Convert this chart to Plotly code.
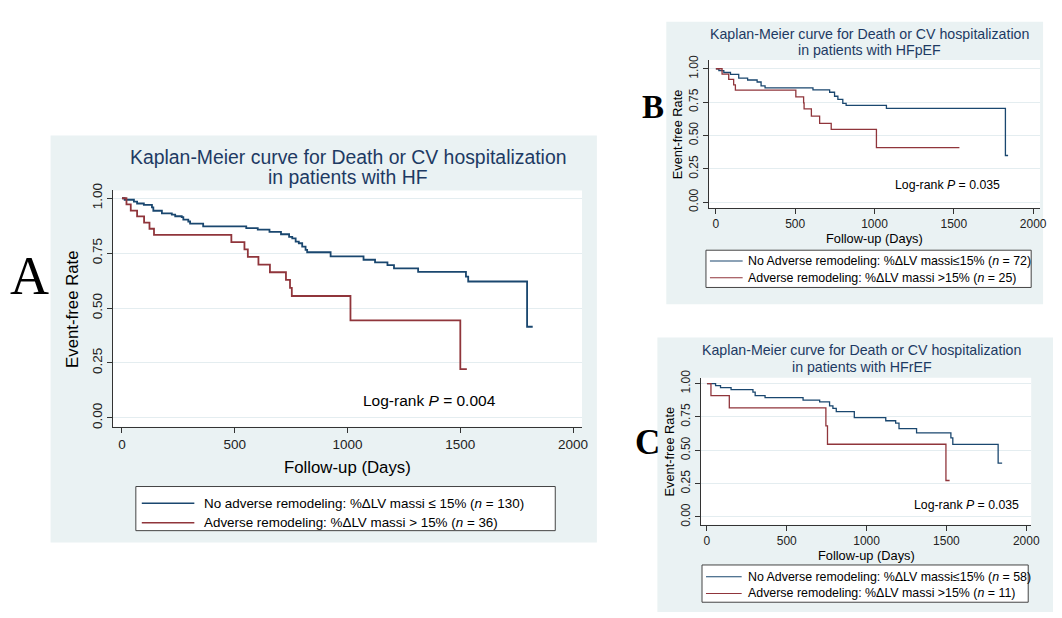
import plotly.graph_objects as go

W, H = 1062, 618
NAVY = "#1a476f"
MAROON = "#90353b"
PANEL_BG = "#eaf2f3"
GRID = "#e4edf0"
AXIS = "#333333"
TITLE_C = "#1d3a63"
SANS = "Liberation Sans, Arial, sans-serif"
SERIF = "Liberation Serif, Times New Roman, serif"

# ---------------- Panel A: all HF ----------------
a_no_t = [0, 12, 53, 67, 97, 133, 139, 177, 221, 236, 265, 272, 294, 302, 360,
          551, 602, 654, 705, 741, 755, 770, 784, 799, 814, 821, 925, 1071,
          1122, 1177, 1206, 1313, 1525, 1535, 1796]
a_no_s = [1.0, 0.993, 0.985, 0.976, 0.970, 0.958, 0.943, 0.931, 0.925, 0.918,
          0.914, 0.903, 0.894, 0.884, 0.872, 0.864, 0.857, 0.847, 0.836, 0.824,
          0.817, 0.802, 0.795, 0.780, 0.765, 0.754, 0.735, 0.720, 0.708, 0.695,
          0.681, 0.665, 0.643, 0.621, 0.415]
a_no_end = 1821
a_adv_t = [0, 20, 39, 67, 98, 122, 142, 485, 543, 558, 605, 656, 727, 745, 753,
           1013, 1500]
a_adv_s = [1.0, 0.972, 0.944, 0.917, 0.889, 0.861, 0.833, 0.800, 0.767, 0.733,
           0.698, 0.663, 0.628, 0.592, 0.555, 0.444, 0.222]
a_adv_end = 1529

# ---------------- Panel B: HFpEF ----------------
b_no_t = [0, 19, 50, 92, 144, 200, 260, 285, 310, 612, 717, 748, 769, 800, 821,
          1075, 1825]
b_no_s = [1.0, 0.986, 0.972, 0.958, 0.930, 0.916, 0.901, 0.872, 0.857, 0.842,
          0.824, 0.794, 0.770, 0.740, 0.725, 0.703, 0.350]
b_no_end = 1842
b_adv_t = [0, 39, 81, 112, 123, 504, 553, 556, 602, 654, 727, 1012]
b_adv_s = [1.0, 0.960, 0.920, 0.880, 0.840, 0.790, 0.745, 0.700, 0.645, 0.590,
           0.545, 0.409]
b_adv_end = 1535

# ---------------- Panel C: HFrEF ----------------
c_no_t = [0, 54, 85, 151, 288, 302, 364, 602, 706, 768, 789, 810, 923, 1120,
          1182, 1203, 1313, 1528, 1540, 1824]
c_no_s = [1.0, 0.985, 0.970, 0.954, 0.936, 0.909, 0.895, 0.875, 0.863, 0.833,
          0.814, 0.789, 0.745, 0.721, 0.703, 0.662, 0.630, 0.593, 0.544, 0.404]
c_no_end = 1849
c_adv_t = [0, 25, 140, 745, 755, 1497]
c_adv_s = [1.0, 0.909, 0.818, 0.682, 0.545, 0.273]
c_adv_end = 1520

x_ticks = [0, 500, 1000, 1500, 2000]
y_ticks = [0.0, 0.25, 0.50, 0.75, 1.00]

panels = [
    dict(key="", title=("Kaplan-Meier curve for Death or CV hospitalization", "in patients with HF"),
         no=(a_no_t, a_no_s, a_no_end), adv=(a_adv_t, a_adv_s, a_adv_end),
         legend=("No adverse remodeling: %ΔLV massi ≤ 15% (<i>n</i> = 130)",
                 "Adverse remodeling: %ΔLV massi > 15% (<i>n</i> = 36)"),
         pval="0.004", pxy=(1362, 0.080),
         plot=(114, 587, 186, 427), xr=[-39.6, 2039.6], yr=[-0.0402, 1.0357],
         bg=(51, 602, 130, 545), title_y=(152, 172), title_x=351, tfs=19.4,
         tick_fs=13.5, atfs=16.8, xt_y=469, yt_x=73, lfs=13.4, lw=1.8,
         leg=(137, 560, 488, 533), leg_rows=(505, 525), leg_line=(143, 196), leg_text=204, pfs=15.5),
    dict(key="2", title=("Kaplan-Meier curve for Death or CV hospitalization", "in patients with HFpEF"),
         no=(b_no_t, b_no_s, b_no_end), adv=(b_adv_t, b_adv_s, b_adv_end),
         legend=("No Adverse remodeling: %ΔLV massi≤15% (<i>n</i> = 72)",
                 "Adverse remodeling: %ΔLV massi >15% (<i>n</i> = 25)"),
         pval="0.035", pxy=(1460, 0.125),
         plot=(715, 1049, 53, 204), xr=[-43.75, 2043.75], yr=[-0.044, 1.066],
         bg=(672, 1052, 14, 302), title_y=(27, 43), title_x=877, tfs=14.2,
         tick_fs=12, atfs=12.8, xt_y=235, yt_x=683, lfs=12.4, lw=1.3,
         leg=(712, 1040, 247, 285), leg_rows=(258, 275), leg_line=(716, 749), leg_text=752, pfs=12.3),
    dict(key="3", title=("Kaplan-Meier curve for Death or CV hospitalization", "in patients with HFrEF"),
         no=(c_no_t, c_no_s, c_no_end), adv=(c_adv_t, c_adv_s, c_adv_end),
         legend=("No Adverse remodeling: %ΔLV massi≤15% (<i>n</i> = 58)",
                 "Adverse remodeling: %ΔLV massi >15% (<i>n</i> = 11)"),
         pval="0.035", pxy=(1627, 0.088),
         plot=(707, 1040, 377, 527), xr=[-37.3, 2031], yr=[-0.0588, 1.044],
         bg=(663, 1062, 336, 616), title_y=(349, 366), title_x=869, tfs=14.2,
         tick_fs=12, atfs=12.8, xt_y=558, yt_x=675, lfs=12.4, lw=1.3,
         leg=(708, 1037, 568, 606), leg_rows=(580, 597), leg_line=(712, 748), leg_text=752, pfs=12.3),
]


def px(x):
    return x / W


def py(y):
    return 1 - y / H


fig = go.Figure()
shapes = []
annotations = []
layout_axes = {}

for p in panels:
    k = p["key"]
    xa, ya = "x" + k, "y" + k
    for (t, s, end), color in ((p["no"], NAVY), (p["adv"], MAROON)):
        fig.add_trace(go.Scatter(
            x=list(t) + [end], y=list(s) + [s[-1]],
            mode="lines", line=dict(color=color, width=p["lw"], shape="hv"),
            xaxis=xa, yaxis=ya, showlegend=False, hoverinfo="skip"))

    l, r, top, bot = p["plot"]
    layout_axes["xaxis" + k] = dict(
        domain=[px(l), px(r)], range=p["xr"], anchor=ya,
        tickvals=x_ticks, ticks="outside", ticklen=5, tickcolor=AXIS,
        showline=True, linecolor=AXIS, linewidth=1, showgrid=False, zeroline=False,
        tickfont=dict(family=SANS, size=p["tick_fs"], color="#222222"))
    layout_axes["yaxis" + k] = dict(
        domain=[py(bot), py(top)], range=p["yr"], anchor=xa,
        tickvals=y_ticks, tickformat=".2f", tickangle=-90,
        ticks="outside", ticklen=5, tickcolor=AXIS,
        showline=True, linecolor=AXIS, linewidth=1,
        showgrid=True, gridcolor=GRID, gridwidth=1, zeroline=False,
        tickfont=dict(family=SANS, size=p["tick_fs"], color="#222222"))

    # panel background and white plot area
    bl, br, bt, bb = p["bg"]
    shapes.append(dict(type="rect", xref="paper", yref="paper", x0=px(bl), x1=px(br),
                       y0=py(bb), y1=py(bt), fillcolor=PANEL_BG, line=dict(width=0), layer="below"))
    shapes.append(dict(type="rect", xref=xa + " domain", yref=ya + " domain", x0=0, x1=1,
                       y0=0, y1=1, fillcolor="white", line=dict(width=0), layer="below"))

    # titles
    for txt, ty in zip(p["title"], p["title_y"]):
        annotations.append(dict(text=txt, x=px(p["title_x"]), y=py(ty), xref="paper", yref="paper",
                                xanchor="center", yanchor="middle", showarrow=False,
                                font=dict(family=SANS, size=p["tfs"], color=TITLE_C)))
    # axis titles
    annotations.append(dict(text="Follow-up (Days)", x=0.5, xref=xa + " domain", y=py(p["xt_y"]),
                            yref="paper", xanchor="center", yanchor="middle", showarrow=False,
                            font=dict(family=SANS, size=p["atfs"], color="black")))
    annotations.append(dict(text="Event-free Rate", x=px(p["yt_x"]), xref="paper", y=0.5,
                            yref=ya + " domain", xanchor="center", yanchor="middle", showarrow=False,
                            textangle=-90, font=dict(family=SANS, size=p["atfs"], color="black")))
    # log-rank text
    annotations.append(dict(text="Log-rank <i>P</i> = " + p["pval"], x=p["pxy"][0], y=p["pxy"][1],
                            xref=xa, yref=ya, xanchor="center", yanchor="middle", showarrow=False,
                            font=dict(family=SANS, size=p["pfs"], color="black")))
    # legend box
    ll, lr, lt, lb = p["leg"]
    shapes.append(dict(type="rect", xref="paper", yref="paper", x0=px(ll), x1=px(lr),
                       y0=py(lb), y1=py(lt), fillcolor="white",
                       line=dict(color="#444444", width=1)))
    for txt, row, color in zip(p["legend"], p["leg_rows"], (NAVY, MAROON)):
        shapes.append(dict(type="line", xref="paper", yref="paper",
                           x0=px(p["leg_line"][0]), x1=px(p["leg_line"][1]),
                           y0=py(row), y1=py(row), line=dict(color=color, width=p["lw"] * 0.8)))
        annotations.append(dict(text=txt, x=px(p["leg_text"]), y=py(row), xref="paper", yref="paper",
                                xanchor="left", yanchor="middle", showarrow=False,
                                font=dict(family=SANS, size=p["lfs"], color="black")))

# panel letters
annotations.append(dict(text="A", x=px(30), y=py(273), xref="paper", yref="paper", showarrow=False,
                        xanchor="center", yanchor="middle", font=dict(family=SERIF, size=54, color="black")))
annotations.append(dict(text="<b>B</b>", x=px(659), y=py(101), xref="paper", yref="paper", showarrow=False,
                        xanchor="center", yanchor="middle", font=dict(family=SERIF, size=33, color="black")))
annotations.append(dict(text="<b>C</b>", x=px(653), y=py(443), xref="paper", yref="paper", showarrow=False,
                        xanchor="center", yanchor="middle", font=dict(family=SERIF, size=35, color="black")))

fig.update_layout(
    width=W, height=H, margin=dict(l=0, r=0, t=0, b=0),
    paper_bgcolor="white", plot_bgcolor="white",
    showlegend=False, shapes=shapes, annotations=annotations,
    hovermode=False, **layout_axes)

fig.write_html("out.html", config={"displayModeBar": False, "staticPlot": True},
               post_script="document.body.style.margin='0';document.body.style.overflow='hidden';")
